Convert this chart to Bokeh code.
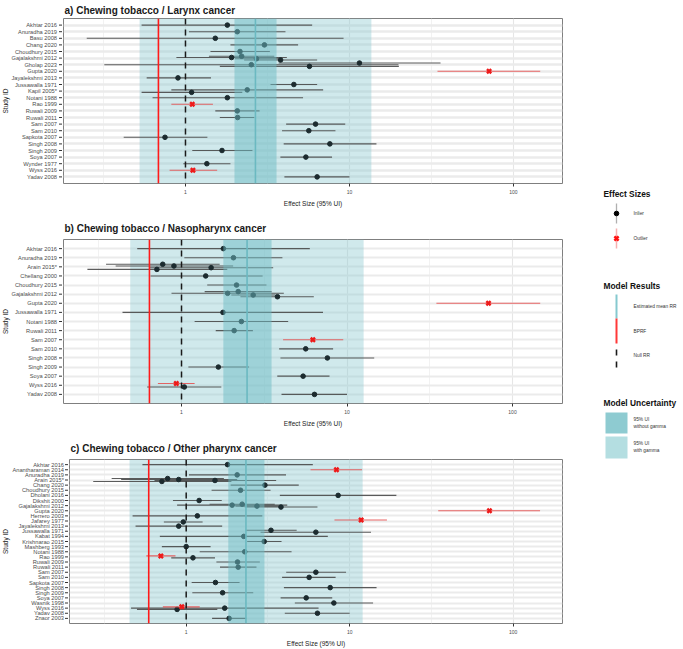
import math
from bokeh.plotting import figure
from bokeh.models import (Range1d, FixedTicker, BoxAnnotation, Span, ColumnDataSource,
                          BasicTickFormatter, Grid)
from bokeh.layouts import row, column
from bokeh.embed import file_html
from bokeh.resources import INLINE
from bokeh.core.properties import value

FONT = "Liberation Sans"

# ---------------- Panel a: Larynx ----------------
a_title = "a) Chewing tobacco / Larynx cancer"
a_studies = ["Akhtar 2016", "Anuradha 2019", "Basu 2008", "Chang 2020", "Choudhury 2015",
             "Gajalakshmi 2012", "Gholap 2023", "Gupta 2020", "Jayalekshmi 2013", "Jussawalla 1971",
             "Kapil 2005*", "Notani 1988", "Rao 1999", "Ruwali 2009", "Ruwali 2011", "Sam 2007",
             "Sam 2010", "Sapkota 2007", "Singh 2008", "Singh 2009", "Soya 2007", "Wynder 1977",
             "Wyss 2016", "Yadav 2008"]
a_obs_study = ["Akhtar 2016", "Anuradha 2019", "Basu 2008", "Chang 2020", "Choudhury 2015",
               "Gajalakshmi 2012", "Gajalakshmi 2012", "Gajalakshmi 2012", "Gajalakshmi 2012",
               "Gholap 2023", "Gholap 2023", "Gholap 2023", "Gupta 2020", "Jayalekshmi 2013",
               "Jussawalla 1971", "Kapil 2005*", "Kapil 2005*", "Notani 1988", "Rao 1999",
               "Ruwali 2009", "Ruwali 2011", "Sam 2007", "Sam 2010", "Sapkota 2007", "Singh 2008",
               "Singh 2009", "Soya 2007", "Wynder 1977", "Wyss 2016", "Yadav 2008"]
a_mean = [1.80, 2.07, 1.52, 3.03, 2.15, 2.20, 1.91, 2.71, 3.80, 11.5, 2.52, 5.70, 71.0, 0.90,
          4.58, 2.38, 1.09, 1.80, 1.10, 2.07, 2.08, 6.21, 5.65, 0.75, 7.59, 1.67, 5.42, 1.35, 1.11, 6.35]
a_lo = [0.54, 1.05, 0.25, 1.88, 1.42, 1.39, 0.88, 2.00, 2.28, 3.70, 0.32, 1.62, 34.4, 0.58,
        3.30, 0.82, 0.54, 0.63, 0.82, 1.52, 1.62, 4.11, 3.88, 0.42, 3.97, 1.10, 3.79, 0.97, 0.80, 4.01]
a_hi = [5.92, 4.07, 9.20, 4.86, 3.27, 3.48, 4.15, 3.70, 6.35, 35.9, 19.9, 20.0, 145.5, 1.43,
        6.35, 6.91, 2.22, 5.21, 1.47, 2.83, 2.63, 9.42, 8.21, 1.36, 14.6, 2.56, 7.83, 1.88, 1.56, 10.0]
a_outlier = [0, 0, 0, 0, 0, 0, 0, 0, 0, 0, 0, 0, 1, 0, 0, 0, 0, 0, 1, 0, 0, 0, 0, 0, 0, 0, 0, 0, 1, 0]
a_mean_rr = 2.67
a_bprf = 0.684
a_ui = [1.99, 3.59]
a_ui_gamma = [0.525, 13.6]

# ---------------- Panel b: Nasopharynx ----------------
b_title = "b) Chewing tobacco / Nasopharynx cancer"
b_studies = ["Akhtar 2016", "Anuradha 2019", "Arain 2015*", "Chellang 2000", "Choudhury 2015",
             "Gajalakshmi 2012", "Gupta 2020", "Jussawalla 1971", "Notani 1988", "Ruwali 2011",
             "Sam 2007", "Sam 2010", "Singh 2008", "Singh 2009", "Soya 2007", "Wyss 2016", "Yadav 2008"]
b_obs_study = ["Akhtar 2016", "Anuradha 2019", "Arain 2015*", "Arain 2015*", "Arain 2015*", "Arain 2015*",
               "Chellang 2000", "Choudhury 2015", "Gajalakshmi 2012", "Gajalakshmi 2012",
               "Gajalakshmi 2012", "Gajalakshmi 2012", "Gupta 2020", "Jussawalla 1971", "Notani 1988",
               "Ruwali 2011", "Sam 2007", "Sam 2010", "Singh 2008", "Singh 2009", "Soya 2007",
               "Wyss 2016", "Wyss 2016", "Yadav 2008"]
b_mean = [1.79, 2.06, 0.77, 0.90, 1.51, 0.71, 1.40, 2.15, 2.20, 1.90, 2.71, 3.80, 71.6, 1.78, 2.30,
          2.08, 6.22, 5.63, 7.61, 1.67, 5.43, 0.93, 1.04, 6.36]
b_lo = [0.54, 1.04, 0.35, 0.40, 0.64, 0.27, 0.65, 1.43, 1.38, 0.87, 2.00, 2.27, 34.7, 0.44, 1.20,
        1.61, 4.11, 3.89, 3.96, 1.10, 3.79, 0.72, 0.62, 4.02]
b_hi = [5.96, 4.07, 1.70, 2.05, 3.58, 1.89, 3.09, 3.26, 3.50, 4.15, 3.70, 6.30, 147.0, 7.16, 4.41,
        2.70, 9.49, 8.24, 14.6, 2.56, 7.84, 1.20, 1.74, 10.0]
b_outlier = [0, 0, 0, 0, 0, 0, 0, 0, 0, 0, 0, 0, 1, 0, 0, 0, 1, 0, 0, 0, 0, 1, 0, 0]
b_mean_rr = 2.49
b_bprf = 0.64
b_ui = [1.79, 3.50]
b_ui_gamma = [0.49, 12.6]

# ---------------- Panel c: Other pharynx ----------------
c_title = "c) Chewing tobacco / Other pharynx cancer"
c_studies = ["Akhtar 2016", "Anantharaman 2014", "Anuradha 2019", "Arain 2015*", "Chang 2020",
             "Choudhury 2015", "Dholani 2016", "Dikshit 2000", "Gajalakshmi 2012", "Gupta 2020",
             "Herrero 2003", "Jafarey 1977", "Jayalekshmi 2013", "Jussawalla 1971", "Kabat 1994",
             "Krishnarao 2015", "Mashberg 1993", "Notani 1988", "Rao 1999", "Ruwali 2009",
             "Ruwali 2011", "Sam 2007", "Sam 2010", "Sapkota 2007", "Singh 2008", "Singh 2009",
             "Soya 2007", "Wasnik 1998", "Wyss 2016", "Yadav 2008", "Znaor 2003"]
c_obs_study = ["Akhtar 2016", "Anantharaman 2014", "Anuradha 2019", "Arain 2015*", "Arain 2015*",
               "Arain 2015*", "Arain 2015*", "Chang 2020", "Choudhury 2015", "Dholani 2016",
               "Dikshit 2000", "Gajalakshmi 2012", "Gajalakshmi 2012", "Gajalakshmi 2012",
               "Gajalakshmi 2012", "Gupta 2020", "Herrero 2003", "Jafarey 1977", "Jafarey 1977",
               "Jayalekshmi 2013", "Jussawalla 1971", "Jussawalla 1971", "Kabat 1994",
               "Krishnarao 2015", "Mashberg 1993", "Notani 1988", "Rao 1999", "Rao 1999",
               "Ruwali 2009", "Ruwali 2011", "Sam 2007", "Sam 2010", "Sapkota 2007", "Singh 2008",
               "Singh 2009", "Soya 2007", "Wasnik 1998", "Wyss 2016", "Wyss 2016", "Wyss 2016",
               "Yadav 2008", "Znaor 2003"]
c_mean = [1.79, 8.3, 2.05, 0.77, 0.90, 1.50, 0.71, 3.03, 2.15, 8.5, 1.20, 2.20, 1.91, 2.71, 3.80,
          71.6, 1.17, 11.75, 0.96, 0.90, 3.30, 6.21, 2.25, 3.00, 1.00, 2.28, 0.70, 1.10, 2.06, 2.08,
          6.21, 5.65, 1.51, 7.60, 1.67, 5.42, 8.0, 0.94, 1.72, 0.88, 6.35, 1.83]
c_lo = [0.54, 5.76, 1.04, 0.35, 0.40, 0.64, 0.27, 1.87, 1.43, 3.74, 0.83, 1.39, 0.88, 2.00, 2.28,
        34.8, 0.47, 8.07, 0.73, 0.49, 2.31, 2.85, 0.69, 2.36, 0.71, 1.21, 0.57, 0.81, 1.53, 1.61,
        4.09, 3.86, 1.08, 3.96, 1.09, 3.78, 4.62, 0.72, 0.46, 0.50, 4.01, 1.44]
c_hi = [5.95, 11.9, 4.08, 1.70, 2.05, 3.55, 1.89, 4.88, 3.28, 19.3, 1.65, 3.48, 4.15, 3.70, 6.35,
        146.0, 2.92, 16.9, 1.26, 1.66, 4.74, 13.5, 7.35, 3.83, 1.41, 4.41, 0.86, 1.50, 2.82, 2.69,
        9.50, 8.20, 2.12, 14.6, 2.57, 7.82, 13.9, 1.21, 6.45, 1.55, 10.0, 2.33]
c_outlier = [0, 1, 0, 0, 0, 0, 0, 0, 0, 0, 0, 0, 0, 0, 0, 1, 0, 1, 0, 0, 0, 0, 0, 0, 0, 0, 1, 0,
             0, 0, 0, 0, 0, 0, 0, 0, 0, 1, 0, 0, 0, 0]
c_mean_rr = 2.32
c_bprf = 0.59
c_ui = [1.81, 3.01]
c_ui_gamma = [0.45, 12.0]

x_ticks = [1, 10, 100]
x_minor = [10 ** -0.5, 10 ** 0.5, 10 ** 1.5]
x_label = "Effect Size (95% UI)"
y_label = "Study ID"

# legend texts
leg_titles = ["Effect Sizes", "Model Results", "Model Uncertainty"]
leg_effect = ["Inlier", "Outlier"]
leg_results = ["Estimated mean RR", "BPRF", "Null RR"]
leg_unc = ["95% UI", "without gamma", "95% UI", "with gamma"]

DODGE = 0.75
PT_COLOR = "#1c2b2f"
LEFT_W = 567  # width of the column holding the three panels


def panel(title, studies, o_study, o_mean, o_lo, o_hi, o_out, mean_rr, bprf, ui, ui_g,
          xr, height, b_top, b_bottom, lab_w, lab_gap, title_standoff, grid_w):
    n = len(studies)
    pos = {s: n - 1 - i for i, s in enumerate(studies)}
    counts = {}
    for s in o_study:
        counts[s] = counts.get(s, 0) + 1
    seen = {}
    ys = []
    for s in o_study:
        k = counts[s]
        j = seen.get(s, 0)
        seen[s] = j + 1
        ys.append(pos[s] + ((k - 1) / 2 - j) * DODGE / k)

    inl = dict(x=[], lo=[], hi=[], y=[])
    out = dict(x=[], lo=[], hi=[], y=[])
    for m, lo, hi, y, o in zip(o_mean, o_lo, o_hi, ys, o_out):
        d = out if o else inl
        d["x"].append(m); d["lo"].append(lo); d["hi"].append(hi); d["y"].append(y)

    yr = Range1d(-1, n)
    p = figure(width=LEFT_W - lab_w, height=height, x_axis_type="log",
               x_range=Range1d(xr[0], xr[1]), y_range=yr, y_axis_location=None,
               output_backend="svg", toolbar_location=None,
               min_border_left=1, min_border_right=5,
               min_border_top=b_top, min_border_bottom=b_bottom)
    p.title.text = title
    p.title.text_font = FONT
    p.title.text_font_size = "10px"
    p.title.text_font_style = "bold"
    p.title.text_color = "#1a1a1a"
    p.title.align = "left"
    p.title.offset = 1
    p.title.standoff = title_standoff

    p.outline_line_color = "#7f7f7f"
    p.outline_line_width = 1

    xt = FixedTicker(ticks=x_ticks, minor_ticks=x_minor)
    p.xaxis.ticker = xt
    p.xaxis.formatter = BasicTickFormatter()
    p.xaxis.major_label_overrides = {t: str(t) for t in x_ticks}
    p.xgrid.ticker = xt
    ax = p.xaxis
    ax.axis_line_color = None
    ax.major_tick_line_color = "#333333"
    ax.major_tick_out = 3
    ax.major_tick_in = 0
    ax.minor_tick_line_color = None
    ax.major_label_text_font = FONT
    ax.major_label_text_font_size = "5px"
    ax.major_label_text_color = "#4d4d4d"
    ax.major_label_standoff = 2
    ax.axis_label = x_label
    ax.axis_label_text_font = FONT
    ax.axis_label_text_font_size = "6.5px"
    ax.axis_label_text_font_style = "normal"
    ax.axis_label_text_color = "#1a1a1a"
    ax.axis_label_standoff = 3

    p.xgrid.grid_line_color = "#e6e6e6"
    p.xgrid.grid_line_width = 1.1
    p.xgrid.minor_grid_line_color = "#efefef"
    p.xgrid.minor_grid_line_width = 0.8
    p.ygrid.visible = False
    yt = FixedTicker(ticks=list(range(n)))
    p.add_layout(Grid(dimension=1, ticker=yt, grid_line_color="#ebebeb", grid_line_width=grid_w))

    # wide uncertainty band (under data)
    p.add_layout(BoxAnnotation(left=ui_g[0], right=ui_g[1], fill_color="#8ecbd1",
                               fill_alpha=0.42, line_color=None, level="underlay"))

    si = ColumnDataSource(inl)
    so = ColumnDataSource(out)
    p.segment(x0="lo", y0="y", x1="hi", y1="y", source=si, line_color="#4a4a4a",
              line_width=1.1, line_alpha=0.9)
    p.scatter(x="x", y="y", source=si, size=4.6, marker="circle",
              fill_color=PT_COLOR, line_color=PT_COLOR)
    p.segment(x0="lo", y0="y", x1="hi", y1="y", source=so, line_color="#e54b4b",
              line_width=1.1, line_alpha=0.85)
    p.scatter(x="x", y="y", source=so, size=6, marker="x", line_color="#ee1a1a",
              line_width=2.4)

    # narrow band drawn over the data, then the reference lines
    p.add_layout(BoxAnnotation(left=ui[0], right=ui[1], fill_color="#6cbcc4",
                               fill_alpha=0.5, line_color=None))
    p.add_layout(Span(location=mean_rr, dimension="height", line_color="#6bb9c1", line_width=1.6))
    p.add_layout(Span(location=bprf, dimension="height", line_color="#ff1a1a", line_width=1.6))
    p.add_layout(Span(location=1, dimension="height", line_color="#1a1a1a", line_width=1.5,
                      line_dash="6 5"))

    # study-label strip sharing the panel's y scale
    lf = figure(width=lab_w, height=height, x_range=Range1d(0, lab_w), y_range=yr,
                x_axis_location=None, y_axis_location=None,
                output_backend="svg", toolbar_location=None,
                min_border_left=0, min_border_right=0,
                min_border_top=b_top, min_border_bottom=b_bottom)
    lf.grid.visible = False
    lf.outline_line_color = None
    rows_y = [pos[s] for s in studies]
    lf.segment(x0=[lab_w - 3.5] * n, y0=rows_y, x1=[lab_w] * n, y1=rows_y,
               line_color="#333333", line_width=1)
    lf.text(x=[lab_w - lab_gap] * n, y=rows_y, text=studies, text_font=value(FONT),
            text_font_size="5.7px", text_align="right", text_baseline="middle",
            text_color="#4d4d4d")
    lf.text(x=[5], y=[(n - 1) / 2], text=[y_label], angle=math.pi / 2, text_font=value(FONT),
            text_font_size="6.5px", text_align="center", text_baseline="middle",
            text_color="#1a1a1a")
    return row(lf, p)


pa = panel(a_title, a_studies, a_obs_study, a_mean, a_lo, a_hi, a_outlier, a_mean_rr, a_bprf,
           a_ui, a_ui_gamma, (0.1804, 199.0), 211, 18, 28, 62, 5.5, 5, 2.4)
pb = panel(b_title, b_studies, b_obs_study, b_mean, b_lo, b_hi, b_outlier, b_mean_rr, b_bprf,
           b_ui, b_ui_gamma, (0.1936, 200.5), 220, 28, 28, 62, 5.5, 11, 2.2)
pc = panel(c_title, c_studies, c_obs_study, c_mean, c_lo, c_hi, c_outlier, c_mean_rr, c_bprf,
           c_ui, c_ui_gamma, (0.1933, 200.3), 218, 28, 25, 68, 4.5, 11, 1.8)

# ---------------- Legend ----------------
LW = 683 - LEFT_W
pl = figure(width=LW, height=649, x_range=Range1d(0, LW), y_range=Range1d(649, 0),
            x_axis_location=None, y_axis_location=None,
            output_backend="svg", toolbar_location=None, min_border=0)
pl.grid.visible = False
pl.outline_line_color = None

pl.text(x=[36, 36, 36], y=[193, 285.7, 402.7], text=leg_titles, text_font=value(FONT),
        text_font_size="8.4px", text_font_style="bold", text_baseline="middle",
        text_color="#111111")
# effect sizes
pl.segment(x0=[49], y0=[203], x1=[49], y1=[223], line_color="#b0b0b0", line_width=1.3)
pl.scatter(x=[49], y=[213], size=4.6, fill_color="black", line_color="black")
pl.segment(x0=[49], y0=[228], x1=[49], y1=[248], line_color="#f6b0b0", line_width=1.5)
pl.scatter(x=[49], y=[238], size=6, marker="x", line_color="#ff1010", line_width=2.4)
pl.text(x=[66, 66], y=[213, 238], text=leg_effect, text_font=value(FONT),
        text_font_size="4.8px", text_baseline="middle", text_color="#333333")
# model results
pl.segment(x0=[49], y0=[294], x1=[49], y1=[318], line_color="#86c9cf", line_width=2)
pl.segment(x0=[49], y0=[318], x1=[49], y1=[343], line_color="#ff3838", line_width=2)
pl.segment(x0=[49], y0=[349], x1=[49], y1=[368], line_color="#1a1a1a", line_width=1.6,
           line_dash="6 6")
pl.text(x=[66, 66, 66], y=[306, 330.7, 355], text=leg_results, text_font=value(FONT),
        text_font_size="4.8px", text_baseline="middle", text_color="#333333")
# uncertainty
pl.quad(left=[38, 38], right=[60, 60], top=[412, 436], bottom=[433, 458],
        fill_color=["#8ecbd1", "#b4dee1"], line_color=None)
pl.text(x=[66, 66, 66, 66], y=[419, 426, 443, 450], text=leg_unc, text_font=value(FONT),
        text_font_size="4.8px", text_baseline="middle", text_color="#333333")

layout = row(column(pa, pb, pc), pl)
open("out.html", "w").write(file_html(layout, INLINE))
